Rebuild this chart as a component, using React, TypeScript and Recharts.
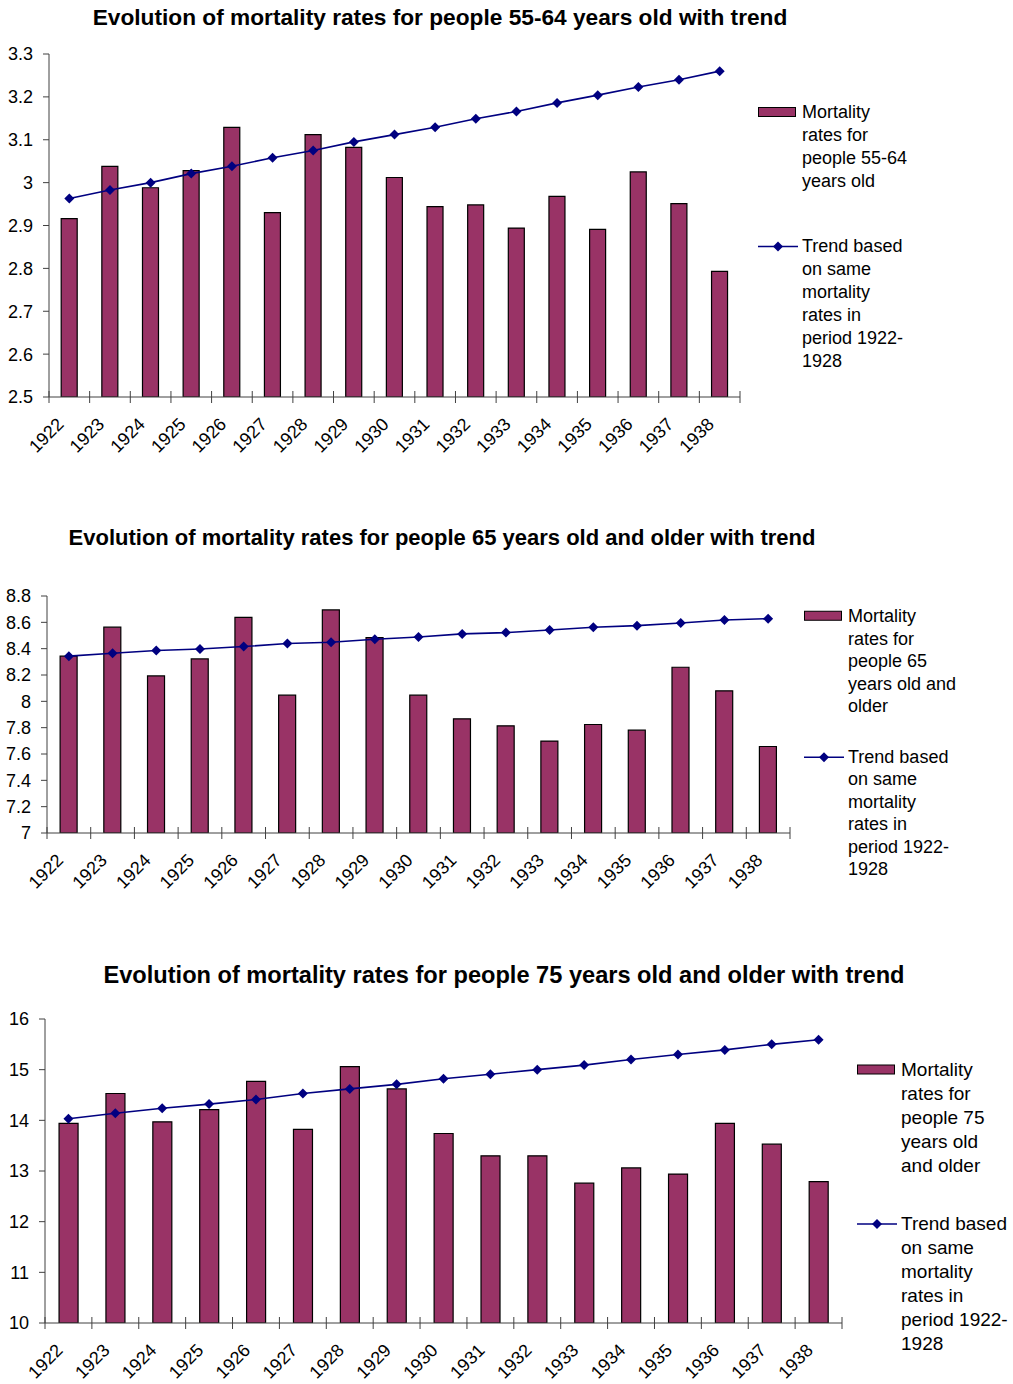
import React from "react";
import { Bar, ComposedChart, Line, XAxis, YAxis } from "recharts";

const YEARS = [
  "1922", "1923", "1924", "1925", "1926", "1927", "1928", "1929", "1930",
  "1931", "1932", "1933", "1934", "1935", "1936", "1937", "1938",
];

const RATES_55_64 = [
  2.916, 3.038, 2.988, 3.028, 3.129, 2.93, 3.112, 3.082, 3.012,
  2.944, 2.948, 2.894, 2.968, 2.891, 3.025, 2.951, 2.793,
];
const TREND_55_64 = [
  2.963, 2.983, 3.0, 3.021, 3.038, 3.058, 3.075, 3.095, 3.112,
  3.129, 3.149, 3.166, 3.186, 3.204, 3.223, 3.24, 3.26,
];
const TICKS_55_64 = [2.5, 2.6, 2.7, 2.8, 2.9, 3, 3.1, 3.2, 3.3];

const RATES_65 = [
  8.343, 8.563, 8.193, 8.322, 8.638, 8.047, 8.694, 8.484, 8.047,
  7.867, 7.814, 7.698, 7.824, 7.781, 8.259, 8.08, 7.657,
];
const TREND_65 = [
  8.343, 8.365, 8.386, 8.398, 8.416, 8.439, 8.449, 8.472, 8.489,
  8.512, 8.522, 8.542, 8.563, 8.575, 8.595, 8.618, 8.628,
];
const TICKS_65 = [7, 7.2, 7.4, 7.6, 7.8, 8, 8.2, 8.4, 8.6, 8.8];

const RATES_75 = [
  13.94, 14.53, 13.97, 14.21, 14.77, 13.82, 15.06, 14.62, 13.74,
  13.3, 13.3, 12.76, 13.06, 12.94, 13.94, 13.53, 12.79,
];
const TREND_75 = [
  14.03, 14.14, 14.24, 14.32, 14.41, 14.53, 14.62, 14.71, 14.82,
  14.91, 15.0, 15.09, 15.2, 15.3, 15.39, 15.5, 15.59,
];
const TICKS_75 = [10, 11, 12, 13, 14, 15, 16];

const TREND_LABEL = ["Trend based", "on same", "mortality", "rates in", "period 1922-", "1928"];

const FONT = "'Liberation Sans', Arial, sans-serif";
const BAR_FILL = "#993366";
const LINE_COLOR = "#000080";
const AXIS_COLOR = "#404040";

const PANELS = [
  {
    title: "Evolution of mortality rates for people 55-64 years old with trend",
    titleX: 440,
    titleY: 17,
    titleSize: 22.7,
    top: 0,
    plotTop: 54,
    plotBottom: 397,
    plotLeft: 49,
    plotRight: 740,
    rates: RATES_55_64,
    trend: TREND_55_64,
    ticks: TICKS_55_64,
    barLabel: ["Mortality", "rates for", "people 55-64", "years old"],
    legendX: 758,
    legendY: 101,
    legendGap: 42,
    legendSize: 18,
    lineH: 23,
  },
  {
    title: "Evolution of mortality rates for people 65 years old and older with trend",
    titleX: 442,
    titleY: 538,
    titleSize: 22,
    top: 480,
    plotTop: 596,
    plotBottom: 833,
    plotLeft: 47,
    plotRight: 790,
    rates: RATES_65,
    trend: TREND_65,
    ticks: TICKS_65,
    barLabel: ["Mortality", "rates for", "people 65", "years old and", "older"],
    legendX: 804,
    legendY: 605,
    legendGap: 28,
    legendSize: 18,
    lineH: 22.5,
  },
  {
    title: "Evolution of mortality rates for people 75 years old and older with trend",
    titleX: 504,
    titleY: 975,
    titleSize: 23.6,
    top: 920,
    plotTop: 1019,
    plotBottom: 1323,
    plotLeft: 45,
    plotRight: 842,
    rates: RATES_75,
    trend: TREND_75,
    ticks: TICKS_75,
    barLabel: ["Mortality", "rates for", "people 75", "years old", "and older"],
    legendX: 857,
    legendY: 1058,
    legendGap: 34,
    legendSize: 19,
    lineH: 24,
  },
];

function Diamond(props: any) {
  const { cx, cy } = props;
  if (cx == null || cy == null) return null;
  const r = 5;
  return (
    <polygon
      points={`${cx},${cy - r} ${cx + r},${cy} ${cx},${cy + r} ${cx - r},${cy}`}
      fill={LINE_COLOR}
    />
  );
}

function renderYearTick(props: any, last: number) {
  const { x, y, payload, index } = props;
  const off = payload?.offset ?? 0;
  const lx = x - 9;
  const ly = y + 24;
  return (
    <g>
      <line x1={x - off} y1={y - 6} x2={x - off} y2={y + 6} stroke={AXIS_COLOR} />
      {index === last && (
        <line x1={x + off} y1={y - 6} x2={x + off} y2={y + 6} stroke={AXIS_COLOR} />
      )}
      <text
        x={lx}
        y={ly}
        transform={`rotate(-45, ${lx}, ${ly})`}
        textAnchor="end"
        dy="0.35em"
        fontSize={18}
        fontFamily={FONT}
        fill="#000"
      >
        {payload.value}
      </text>
    </g>
  );
}

function fmt(v: number) {
  return String(Number(v.toFixed(1)));
}

function Legend({ p }: { p: (typeof PANELS)[number] }) {
  const text: React.CSSProperties = {
    fontSize: p.legendSize,
    lineHeight: `${p.lineH}px`,
    fontFamily: FONT,
    color: "#000",
    whiteSpace: "nowrap",
  };
  return (
    <div style={{ position: "absolute", left: p.legendX, top: p.legendY }}>
      <div style={{ display: "flex", alignItems: "flex-start" }}>
        <svg width={44} height={p.lineH} style={{ flexShrink: 0 }}>
          <rect x={0.5} y={p.lineH / 2 - 5} width={37} height={9} fill={BAR_FILL} stroke="#000" />
        </svg>
        <div style={text}>
          {p.barLabel.map((l) => (
            <div key={l}>{l}</div>
          ))}
        </div>
      </div>
      <div style={{ display: "flex", alignItems: "flex-start", marginTop: p.legendGap }}>
        <svg width={44} height={p.lineH} style={{ flexShrink: 0 }}>
          <line x1={0} y1={p.lineH / 2} x2={40} y2={p.lineH / 2} stroke={LINE_COLOR} strokeWidth={1.5} />
          <Diamond cx={20} cy={p.lineH / 2} />
        </svg>
        <div style={text}>
          {TREND_LABEL.map((l) => (
            <div key={l}>{l}</div>
          ))}
        </div>
      </div>
    </div>
  );
}

function Panel({ p }: { p: (typeof PANELS)[number] }) {
  const data = YEARS.map((year, i) => ({ year, rate: p.rates[i], trend: p.trend[i] }));
  const h = p.plotBottom - p.top + 74;
  const domain: [number, number] = [p.ticks[0], p.ticks[p.ticks.length - 1]];
  return (
    <>
      <div
        style={{
          position: "absolute",
          left: p.titleX - 480,
          width: 960,
          top: p.titleY - 13,
          textAlign: "center",
          fontFamily: FONT,
          fontWeight: "bold",
          fontSize: p.titleSize,
          lineHeight: "26px",
          whiteSpace: "nowrap",
        }}
      >
        {p.title}
      </div>
      <div style={{ position: "absolute", left: 0, top: p.top }}>
        <ComposedChart
          width={1013}
          height={h}
          data={data}
          margin={{ top: p.plotTop - p.top, right: 1013 - p.plotRight, left: 0, bottom: 14 }}
          barCategoryGap="30%"
        >
          <XAxis
            dataKey="year"
            height={60}
            interval={0}
            tickLine={false}
            tickSize={0}
            tickMargin={0}
            stroke={AXIS_COLOR}
            tick={(props: any) => renderYearTick(props, data.length - 1)}
          />
          <YAxis
            width={p.plotLeft}
            domain={domain}
            ticks={p.ticks}
            allowDataOverflow
            interval={0}
            tickFormatter={fmt}
            stroke={AXIS_COLOR}
            tickSize={6}
            tickMargin={10}
            tick={{ fill: "#000", fontSize: 18, fontFamily: FONT }}
          />
          <Bar dataKey="rate" fill={BAR_FILL} stroke="#000" strokeWidth={1.2} isAnimationActive={false} />
          <Line
            dataKey="trend"
            stroke={LINE_COLOR}
            strokeWidth={1.6}
            dot={<Diamond />}
            activeDot={false}
            isAnimationActive={false}
          />
        </ComposedChart>
      </div>
      <Legend p={p} />
    </>
  );
}

export default function App() {
  return (
    <div
      style={{
        position: "absolute",
        left: 0,
        top: 0,
        width: 1013,
        height: 1384,
        background: "#fff",
        overflow: "hidden",
      }}
    >
      {PANELS.map((p) => (
        <Panel key={p.title} p={p} />
      ))}
    </div>
  );
}
